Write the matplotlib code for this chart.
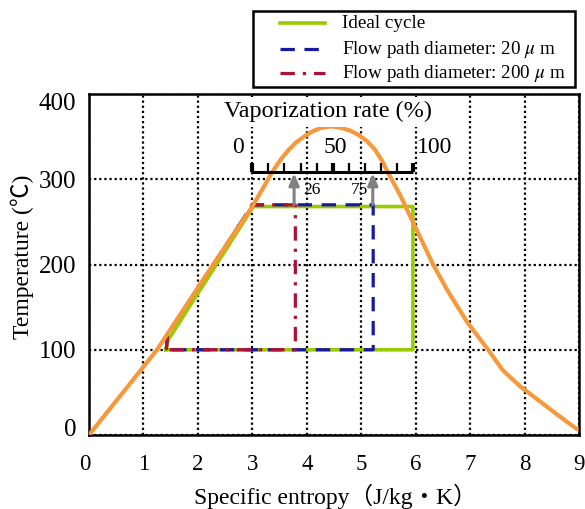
import matplotlib
matplotlib.use('Agg')
import matplotlib.pyplot as plt
from matplotlib.lines import Line2D
from matplotlib.patches import Rectangle
from matplotlib.transforms import ScaledTranslation

plt.rcParams['font.family'] = ['Liberation Serif', 'Noto Sans CJK JP', 'DejaVu Sans']
plt.rcParams['mathtext.fontset'] = 'stix'

# ---------------- data ----------------
dome_s = [0.0, 1.25, 2.28, 3.0, 3.2, 3.36, 3.52, 3.66, 3.8, 3.95, 4.1, 4.25, 4.45,
          4.65, 4.8, 4.95, 5.1, 5.25, 5.38, 5.49, 5.71, 6.32, 6.58, 6.94, 7.33,
          7.6, 7.92, 8.23, 8.6, 8.96]
dome_T = [0, 100, 200, 268, 290, 308, 323, 334, 343, 350, 356, 360, 362,
          360, 357, 352, 345, 335, 322, 308, 282, 200, 170, 133, 100,
          76, 57, 42, 24, 7]

ideal_s = [1.41, 1.46, 3.02, 5.95, 5.95, 1.41]
ideal_T = [100, 112, 268, 268, 100, 100]

d20_s = [1.42, 1.44, 3.0, 5.22, 5.22, 1.42]
d20_T = [100, 118, 270, 270, 100, 100]

d200_s = [1.42, 1.44, 3.0, 3.79, 3.79, 1.42]
d200_T = [100, 118, 270, 270, 100, 100]

vap_ticks = [0, 10, 20, 30, 40, 50, 60, 70, 80, 90, 100]
vap_major = [0, 50, 100]
vap_marks = [26, 75]

x_ticks = [0, 1, 2, 3, 4, 5, 6, 7, 8, 9]
y_ticks = [0, 100, 200, 300, 400]

labels = ['Ideal cycle', 'Flow path diameter: 20 $\\mu$ m',
          'Flow path diameter: 200 $\\mu$ m']

# ---------------- styles ----------------
c_dome = '#f7983a'
c_ideal = '#99cc00'
c_20 = '#1818a0'
c_200 = '#b01038'
st_ideal = dict(color=c_ideal, lw=2.6, ls='-')
st_20 = dict(color=c_20, lw=2.3, ls=(0, (4.5, 3)))
st_200 = dict(color=c_200, lw=2.3, ls=(0, (4.5, 2.5, 1, 2.5)))

W, H = 585, 509
fig = plt.figure(figsize=(W / 100, H / 100), dpi=100)
ax = fig.add_axes([89 / W, 1 - 435 / H, 490 / W, 341 / H])

ax.plot(ideal_s, ideal_T, zorder=3, **st_ideal)
ax.plot(d20_s, d20_T, zorder=4, **st_20)
ax.plot(d200_s, d200_T, zorder=5, **st_200)
ax.plot(dome_s, dome_T, color=c_dome, lw=3.0, zorder=6,
        solid_capstyle='round', solid_joinstyle='round')

ax.set_xlim(0, 9)
ax.set_ylim(0, 400)
ax.set_xticks(x_ticks)
ax.set_yticks(y_ticks)
ax.set_xticklabels([str(v) for v in x_ticks], fontsize=16.5)
ax.set_yticklabels([str(v) for v in y_ticks], fontsize=18)
ax.tick_params(axis='both', length=0)
ax.tick_params(axis='x', pad=14)
ax.tick_params(axis='y', pad=9)
ax.grid(True, color='black', ls=(0, (1, 1.3)), lw=1.6)
ax.set_axisbelow(True)
for sp in ax.spines.values():
    sp.set_linewidth(1.8)

# shift the end labels inward like the reference
ylabs = ax.get_yticklabels()
ylabs[0].set_transform(ylabs[0].get_transform() + ScaledTranslation(0, 8 / 100, fig.dpi_scale_trans))
ylabs[-1].set_transform(ylabs[-1].get_transform() + ScaledTranslation(0, -8 / 100, fig.dpi_scale_trans))
xlabs = ax.get_xticklabels()
xlabs[0].set_transform(xlabs[0].get_transform() + ScaledTranslation(-4 / 100, 0, fig.dpi_scale_trans))

ax.set_xlabel('Specific entropy（J/kg・K）', fontsize=17)
ax.xaxis.set_label_coords((335 - 89) / 490, (435 - 484) / 341)
ax.set_ylabel('Temperature (℃)', fontsize=17, va='center')
ax.yaxis.set_label_coords((22 - 89) / 490, (435 - 257) / 341)

# ---------------- vaporization rate scale ----------------
s0, s1 = 3.0, 5.95
T_bar = 308
tick_h = 10.5
def vs(p):
    return s0 + (s1 - s0) * p / 100.0
ax.plot([vs(0), vs(100)], [T_bar, T_bar], color='black', lw=2.2, zorder=8,
        solid_capstyle='butt')
for p in vap_ticks:
    lw = 3.0 if p in vap_major else 1.6
    ax.plot([vs(p), vs(p)], [T_bar, T_bar + tick_h], color='black', lw=lw,
            zorder=8, solid_capstyle='butt')
for p, sx in zip(vap_major, [2.74, 4.52, 6.35]):
    ax.text(sx, 337, str(p), fontsize=17, ha='center', va='center', zorder=9)
ax.text(4.39, 379, 'Vaporization rate (%)', fontsize=17.4, ha='center', va='center',
        zorder=9, bbox=dict(facecolor='white', edgecolor='none', pad=3))
for p, lx in zip(vap_marks, [4.09, 4.96]):
    ax.annotate('', xy=(vs(p), T_bar - 1), xytext=(vs(p), 270),
                arrowprops=dict(arrowstyle='-|>,head_length=0.7,head_width=0.3',
                                color='#808080', lw=2.2, shrinkA=0, shrinkB=0),
                zorder=7)
    ax.text(lx, 287, str(p), fontsize=12.5, ha='center', va='center', zorder=9)

# ---------------- legend (drawn in figure pixels) ----------------
def fx(px):
    return px / W
def fy(py):
    return 1 - py / H
fig.add_artist(Rectangle((fx(253), fy(87)), fx(575) - fx(253), fy(11) - fy(87),
                         transform=fig.transFigure, facecolor='white',
                         edgecolor='black', lw=1.8))
rows = [23, 49, 73]
for py, st, lab in zip(rows, [st_ideal, st_20, st_200], labels):
    fig.add_artist(Line2D([fx(280), fx(325)], [fy(py), fy(py)],
                          transform=fig.transFigure, **st))
    fig.text(fx(342), fy(py), lab, fontsize=13.8, ha='left', va='center')

fig.savefig('out.png', dpi=100)
